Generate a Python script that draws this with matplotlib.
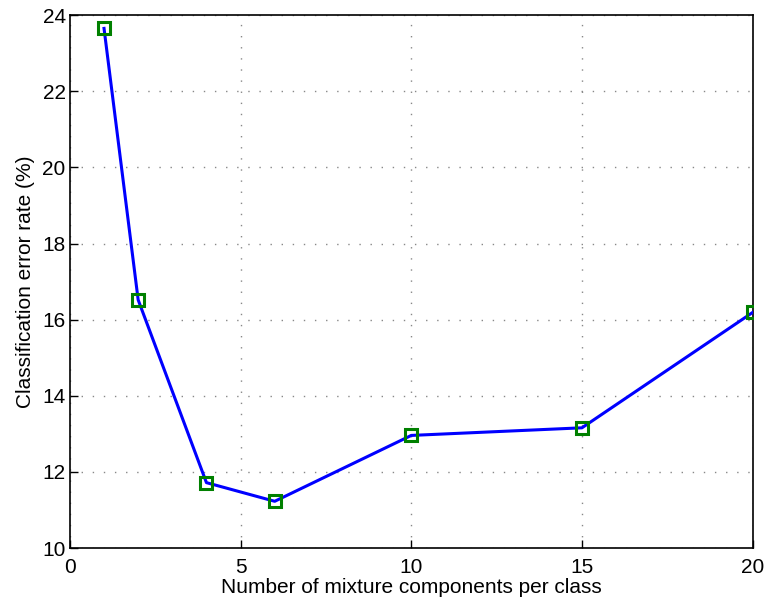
import numpy as np
import matplotlib
matplotlib.use('Agg')
import matplotlib.pyplot as plt

plt.rcParams['font.family'] = ['Liberation Sans', 'DejaVu Sans']

# number of mixture components per class
n_comp = [1, 2, 4, 6, 10, 15, 20]
# classification error rate (%)
err = [23.65, 16.52, 11.72, 11.23, 12.96, 13.16, 16.19]

xticks = [0, 5, 10, 15, 20]
yticks = [10, 12, 14, 16, 18, 20, 22, 24]

fig = plt.figure(figsize=(7.68, 6.03), dpi=100)
ax = fig.add_axes([0.091, 0.091, 0.889, 0.884])

ax.plot(n_comp, err, '-', color='#0000ff', lw=2.2, zorder=3)
ax.plot(n_comp, err, 's', mfc='none', mec='#008000', mew=2.2, ms=8, zorder=4)

ax.set_xlim(0, 20)
ax.set_ylim(10, 24)
ax.set_xticks(xticks)
ax.set_yticks(yticks)
ax.grid(True, linestyle=(0, (1, 7)), color='#888888', lw=1.0)
ax.tick_params(direction='in', length=6, width=1, labelsize=15)
ax.tick_params(axis='x', pad=7)
ax.tick_params(axis='y', pad=3)
for s in ax.spines.values():
    s.set_linewidth(1.2)

ax.set_xlabel('Number of mixture components per class', fontsize=15, labelpad=1)
ax.set_ylabel('Classification error rate (%)', fontsize=15, labelpad=5)

fig.savefig('out.png', dpi=100)
